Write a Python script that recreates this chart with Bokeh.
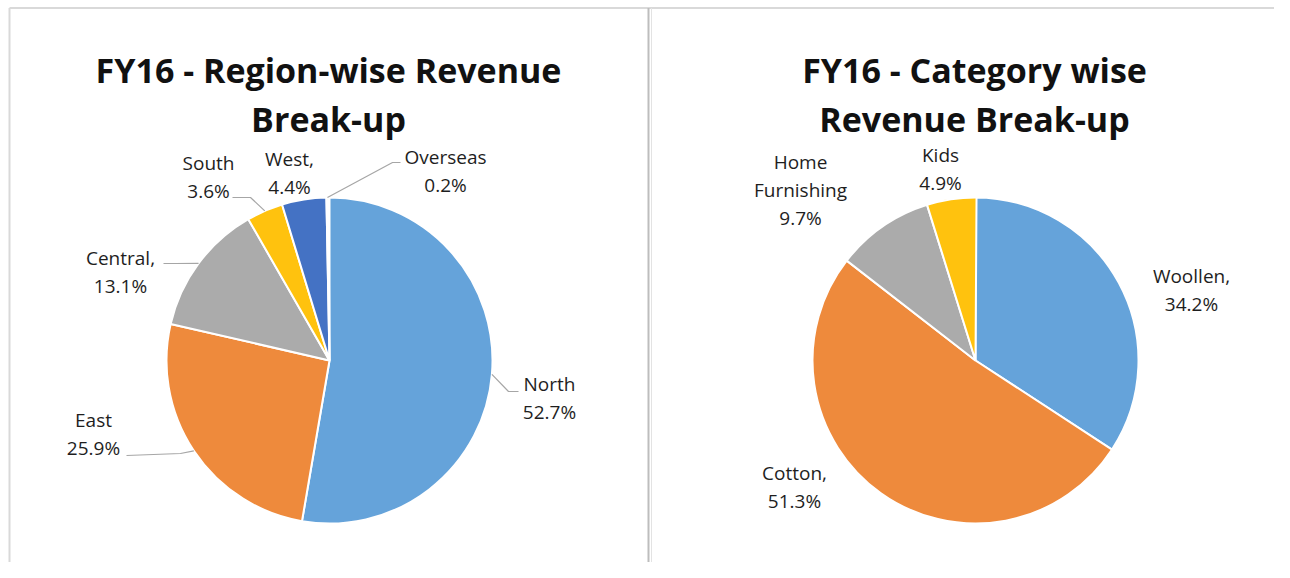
import numpy as np
from bokeh.plotting import figure
from bokeh.models import Range1d, ColumnDataSource
from bokeh.core.properties import value
from bokeh.embed import file_html
from bokeh.resources import INLINE

# ---------------- data ----------------
region_names = ["North", "East", "Central", "South", "West", "Overseas"]
region_share = [52.7, 25.9, 13.1, 3.6, 4.4, 0.2]
region_labels = ["North\n52.7%", "East\n25.9%", "Central,\n13.1%", "South\n3.6%", "West,\n4.4%", "Overseas\n0.2%"]

category_names = ["Woollen", "Cotton", "Home Furnishing", "Kids"]
category_share = [34.2, 51.3, 9.7, 4.9]
category_labels = ["Woollen,\n34.2%", "Cotton,\n51.3%", "Home\nFurnishing\n9.7%", "Kids\n4.9%"]

title_left = "FY16 - Region-wise Revenue\nBreak-up"
title_right = "FY16 - Category wise\nRevenue Break-up"

# ---------------- styling / layout ----------------
region_colors = ["#65A3DA", "#EE8A3C", "#ABABAB", "#FFC20E", "#4472C4", "#70AD47"]
category_colors = ["#65A3DA", "#EE8A3C", "#ABABAB", "#FFC20E"]

W, H = 1274, 562

def Y(img_y):
    return H - img_y

left_c = (329, 360)
right_c = (975, 360)
R = 163
LABEL_LS = 28   # label line spacing (px)
TITLE_LS = 49   # title line spacing (px)
LABEL_FONT = "Open Sans"

# label block centre offsets from pie centre (image coords)
region_label_off = [(220, 37), (-236, 73), (-209, -89), (-121, -184), (-40, -188), (116, -190)]
category_label_off = [(216, -71), (-181, 126), (-175, -171), (-35, -192)]

# leader line: (elbow, end) offsets from pie centre, None = no leader
region_leader = [((179, 31), (189, 31)), ((-149, 93), (-203, 95)), ((-154, -97), (-166, -97)),
                 ((-79, -163), (-97, -163)), None, ((63, -198), (71, -198))]

p = figure(width=W, height=H, x_range=Range1d(0, W), y_range=Range1d(0, H),
           output_backend="svg", toolbar_location=None, min_border=0)
p.axis.visible = False
p.grid.visible = False
p.outline_line_color = None
p.background_fill_color = "white"
p.border_fill_color = "white"

# panel borders
p.segment(x0=[9, 9, 648, 651], y0=[Y(7.5)] * 4,
          x1=[1274, 9, 648, 651], y1=[Y(7.5), Y(578), Y(578), Y(578)],
          line_color=["#d9d9d9", "#d9d9d9", "#bdbdbd", "#e3e3e3"], line_width=[2, 2, 2, 1])


def draw_lines(cx, cy, txt, spacing, **kw):
    lines = txt.split("\n")
    n = len(lines)
    ys = [Y(cy + (i - (n - 1) / 2) * spacing) for i in range(n)]
    p.text(x=[cx] * n, y=ys, text=lines, text_align="center", **kw)


def draw_pie(center, shares, colors, labels, label_off, leaders):
    cx, cy = center
    fr = np.array(shares, dtype=float) / 100.0
    cum = np.concatenate([[0], np.cumsum(fr)])
    start = np.pi / 2 - cum[1:] * 2 * np.pi
    end = np.pi / 2 - cum[:-1] * 2 * np.pi
    src = ColumnDataSource(dict(start=start, end=end, color=colors))
    p.wedge(x=cx, y=Y(cy), radius=R, start_angle="start", end_angle="end",
            fill_color="color", line_color="white", line_width=2, source=src)
    mid = (cum[:-1] + cum[1:]) / 2 * 2 * np.pi  # clockwise from top
    xs, ys = [], []
    for i, lead in enumerate(leaders or []):
        if lead is None:
            continue
        ex = cx + R * np.sin(mid[i])
        ey = cy - R * np.cos(mid[i])
        (bx, by), (tx, ty) = lead
        xs.append([ex, cx + bx, cx + tx])
        ys.append([Y(ey), Y(cy + by), Y(cy + ty)])
    if xs:
        p.multi_line(xs, ys, line_color="#a6a6a6", line_width=1.2)
    for lab, off in zip(labels, label_off):
        draw_lines(cx + off[0], cy + off[1], lab, LABEL_LS, text_baseline="middle",
                   text_font=value(LABEL_FONT), text_font_size="19px", text_color="#1e1e1e")


draw_pie(left_c, region_share, region_colors, region_labels, region_label_off, region_leader)
draw_pie(right_c, category_share, category_colors, category_labels, category_label_off, None)

for tx, title in ((328, title_left), (974, title_right)):
    for i, line in enumerate(title.split("\n")):
        p.text(x=[tx], y=[Y(69 + i * TITLE_LS)], text=[line], text_align="center",
               text_baseline="alphabetic", text_font=value("Open Sans"),
               text_font_style="bold", text_font_size="34px", text_color="#111111")

open("out.html", "w").write(file_html(p, INLINE))
